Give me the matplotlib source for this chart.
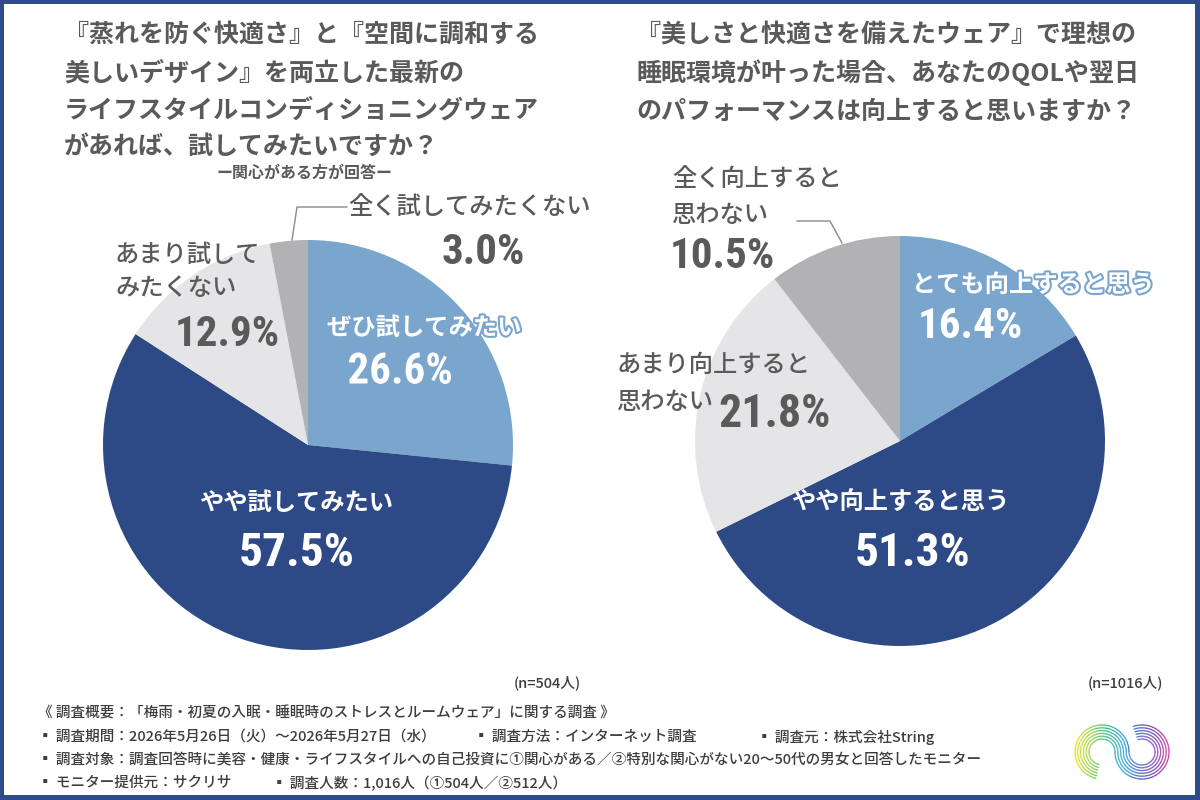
import numpy as np
import matplotlib
matplotlib.use("Agg")
import matplotlib.pyplot as plt
import matplotlib.patheffects as pe
from matplotlib import font_manager
from matplotlib.collections import LineCollection
from matplotlib.colors import LinearSegmentedColormap
from matplotlib.patches import Rectangle

# ---- data ----
left_title = ["『蒸れを防ぐ快適さ』と『空間に調和する",
              "美しいデザイン』を両立した最新の",
              "ライフスタイルコンディショニングウェア",
              "があれば、試してみたいですか？"]
left_subtitle = "ー関心がある方が回答ー"
left_labels = [["ぜひ試してみたい"], ["やや試してみたい"],
               ["あまり試して", "みたくない"], ["全く試してみたくない"]]
left_values = [26.6, 57.5, 12.9, 3.0]
left_n = "(n=504人)"

right_title = ["『美しさと快適さを備えたウェア』で理想の",
               "睡眠環境が叶った場合、あなたのQOLや翌日",
               "のパフォーマンスは向上すると思いますか？"]
right_labels = [["とても向上すると思う"], ["やや向上すると思う"],
                ["あまり向上すると", "思わない"], ["全く向上すると", "思わない"]]
right_values = [16.4, 51.3, 21.8, 10.5]
right_n = "(n=1016人)"

footer = [
    [(38, "《 調査概要：「梅雨・初夏の入眠・睡眠時のストレスとルームウェア」に関する調査 》")],
    [(38, "▪ 調査期間：2026年5月26日（火）～2026年5月27日（水）"),
     (474, "▪ 調査方法：インターネット調査"),
     (757, "▪ 調査元：株式会社String")],
    [(38, "▪ 調査対象：調査回答時に美容・健康・ライフスタイルへの自己投資に①関心がある／②特別な関心がない20～50代の男女と回答したモニター")],
    [(38, "▪ モニター提供元：サクリサ"),
     (272, "▪ 調査人数：1,016人（①504人／②512人）")],
]
footer_y = [713, 737, 760, 783]

# ---- style ----
slice_colors = ["#7aa5cc", "#2e4a86", "#e5e5e8", "#b2b2b4"]
frame_color = "#2f4b8c"
text_gray = "#5a5a5a"
JP = ["Noto Sans CJK JP", "DejaVu Sans"]

names = {f.name for f in font_manager.fontManager.ttflist}
NUM = next((f for f in ["Liberation Sans Narrow", "Roboto Condensed", "Roboto"] if f in names), "DejaVu Sans")

W, H = 1200, 800


def Y(y):
    # pixel row (from top) -> data y
    return H - y


def put(ax, x, y, s, size, color=text_gray, ha="left", weight="bold", family=JP, outline=None):
    t = ax.text(x, Y(y), s, fontsize=size, color=color, ha=ha, va="center",
                fontweight=weight, family=family, zorder=5)
    if outline:
        t.set_path_effects([pe.Stroke(linewidth=3, foreground=outline), pe.Normal()])
    return t


def draw_pie(ax, values, cx, cy, r):
    ax.pie(values, colors=slice_colors, startangle=90, counterclock=False,
           center=(cx, Y(cy)), radius=r, wedgeprops=dict(linewidth=0))


def draw_logo(ax, cx, cy):
    cmap = LinearSegmentedColormap.from_list(
        "logo", ["#efe400", "#8ccf2c", "#16ae6c", "#14a4d8", "#2b50b8", "#6a2ca8", "#cc1e94"])
    d = 40
    xl, xr = cx - d / 2, cx + d / 2
    segs, cols = [], []
    for r in np.linspace(13, 27, 6):
        t1 = np.radians(np.linspace(258, 0, 120))
        t2 = np.radians(np.linspace(180, 470, 160))
        xs = np.concatenate([xl + r * np.cos(t1), xr + (d - r) * np.cos(t2)])
        ys = np.concatenate([Y(cy) + r * np.sin(t1), Y(cy) + (d - r) * np.sin(t2)])
        pts = np.column_stack([xs, ys])
        seg = np.stack([pts[:-1], pts[1:]], axis=1)
        segs.extend(seg)
        cols.extend(cmap((seg[:, 0, 0] - (xl - 28)) / (d + 56)))
    ax.add_collection(LineCollection(segs, colors=cols, linewidths=0.9, zorder=5))


fig = plt.figure(figsize=(12, 8), dpi=100)
fig.patch.set_facecolor(frame_color)
ax = fig.add_axes([0, 0, 1, 1])
ax.add_patch(Rectangle((4, 5), 1191, 791, facecolor="white", edgecolor="none", zorder=0))

# pies
draw_pie(ax, left_values, 308, 445, 205)
draw_pie(ax, right_values, 900, 441, 205)

# titles
for i, line in enumerate(left_title):
    put(ax, 64, [35, 73, 110, 147][i], line, 18)
put(ax, 305, 173, left_subtitle, 11.5, ha="center")
for i, line in enumerate(right_title):
    put(ax, 636, [35, 73, 112][i], line, 18)

# left pie labels
lb = slice_colors[0]
put(ax, 424, 328, left_labels[0][0], 17.5, color="white", ha="center", outline=lb)
put(ax, 400, 372, f"{left_values[0]:.1f}%", 31, color="white", ha="center", family=NUM, outline=lb)
put(ax, 296, 503, left_labels[1][0], 17.5, color="white", ha="center")
put(ax, 297, 553, f"{left_values[1]:.1f}%", 34, color="white", ha="center", family=NUM)
put(ax, 115, 255, left_labels[2][0], 17.5, weight="medium")
put(ax, 115, 288, left_labels[2][1], 17.5, weight="medium")
put(ax, 227, 334, f"{left_values[2]:.1f}%", 31, ha="center", family=NUM)
put(ax, 348, 208, left_labels[3][0], 17.5, weight="medium")
put(ax, 483, 253, f"{left_values[3]:.1f}%", 31, ha="center", family=NUM)
ax.plot([292, 297, 347], [Y(240), Y(207), Y(207)], color="#8a8a8a", lw=1, zorder=4)
put(ax, 547, 683, left_n, 10.5, color="#3d3d3d", ha="center", weight="medium")

# right pie labels
put(ax, 1033, 285, right_labels[0][0], 17.5, color="white", ha="center", outline=lb)
put(ax, 970, 326, f"{right_values[0]:.1f}%", 31, color="white", ha="center", family=NUM)
put(ax, 900, 503, right_labels[1][0], 17.5, color="white", ha="center")
put(ax, 913, 553, f"{right_values[1]:.1f}%", 34, color="white", ha="center", family=NUM)
put(ax, 617, 365, right_labels[2][0], 17.5, weight="medium")
put(ax, 617, 402, right_labels[2][1], 17.5, weight="medium")
put(ax, 775, 414, f"{right_values[2]:.1f}%", 33, ha="center", family=NUM)
put(ax, 672, 179, right_labels[3][0], 17.5, weight="medium")
put(ax, 672, 215, right_labels[3][1], 17.5, weight="medium")
put(ax, 670, 256, f"{right_values[3]:.1f}%", 31, family=NUM)
ax.plot([842, 830, 797], [Y(243), Y(221), Y(221)], color="#8a8a8a", lw=1, zorder=4)
put(ax, 1125, 683, right_n, 10.5, color="#3d3d3d", ha="center", weight="medium")

# footer
for row, y in zip(footer, footer_y):
    for x, s in row:
        put(ax, x, y, s, 10.5, color="#3d3d3d", weight="medium")

draw_logo(ax, 1122, 752)

ax.set_xlim(0, W)
ax.set_ylim(0, H)
ax.set_aspect("auto")
ax.axis("off")

fig.savefig("out.png", dpi=100, facecolor=fig.get_facecolor())
